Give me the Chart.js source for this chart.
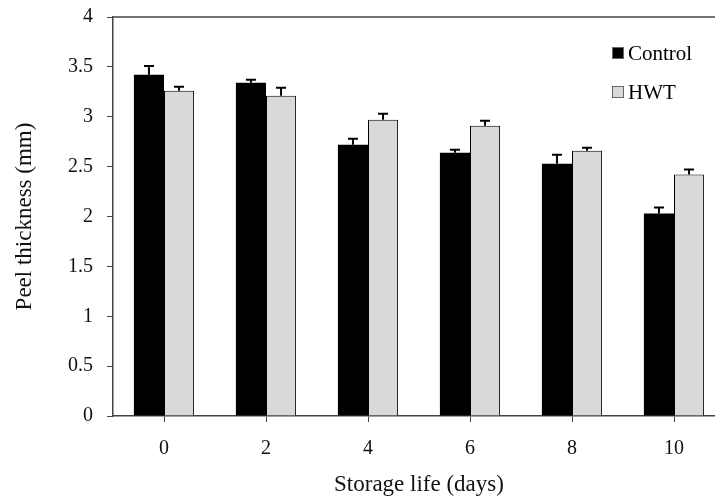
<!DOCTYPE html>
<html>
<head>
<meta charset="utf-8">
<script src="https://cdn.jsdelivr.net/npm/chart.js@4/dist/chart.umd.min.js"></script>
<style>
  html, body { margin: 0; padding: 0; background: #fff; }
  #wrap { width: 715px; height: 502px; overflow: hidden; }
</style>
</head>
<body>
<div id="wrap"><canvas id="myChart" width="725" height="502"></canvas></div>
<script>
// data
const days = ['0', '2', '4', '6', '8', '10'];
const control = [3.42, 3.34, 2.72, 2.64, 2.53, 2.03];
const controlErr = [0.09, 0.03, 0.06, 0.03, 0.09, 0.06];
const hwt = [3.26, 3.21, 2.97, 2.91, 2.66, 2.42];
const hwtErr = [0.04, 0.08, 0.06, 0.05, 0.03, 0.05];
const yTicks = ['0', '0.5', '1', '1.5', '2', '2.5', '3', '3.5', '4'];

const serif = 'Liberation Serif';

// upward-only error bars (T shape)
const errorBars = {
    id: 'errorBars',
    afterDatasetsDraw(chart) {
        const ctx = chart.ctx;
        const y = chart.scales.y;
        ctx.save();
        ctx.strokeStyle = '#000';
        ctx.lineWidth = 2;
        chart.data.datasets.forEach((ds, i) => {
            const meta = chart.getDatasetMeta(i);
            meta.data.forEach((bar, j) => {
                const top = y.getPixelForValue(ds.data[j] + ds.errors[j]);
                ctx.beginPath();
                ctx.moveTo(bar.x, bar.y);
                ctx.lineTo(bar.x, top);
                ctx.moveTo(bar.x - 5, top);
                ctx.lineTo(bar.x + 5, top);
                ctx.stroke();
            });
        });
        ctx.restore();
    }
};

// top frame line runs to the right edge
const frame = {
    id: 'frame',
    afterDraw(chart) {
        const ctx = chart.ctx;
        const a = chart.chartArea;
        ctx.save();
        ctx.strokeStyle = '#444';
        ctx.lineWidth = 1.5;
        ctx.beginPath();
        ctx.moveTo(a.left, a.top);
        ctx.lineTo(chart.width, a.top);
        ctx.stroke();
        ctx.restore();
    }
};

// legend inside plot, top right
const boxLegend = {
    id: 'boxLegend',
    afterDraw(chart) {
        const ctx = chart.ctx;
        ctx.save();
        ctx.font = '21px "' + serif + '"';
        ctx.textBaseline = 'middle';
        const rows = [53, 92];
        chart.data.datasets.forEach((ds, i) => {
            const cy = rows[i];
            ctx.fillStyle = ds.backgroundColor;
            ctx.fillRect(612, cy - 6, 12, 12);
            ctx.strokeStyle = '#666';
            ctx.lineWidth = 1;
            ctx.strokeRect(612.5, cy - 5.5, 11, 11);
            ctx.fillStyle = '#000';
            ctx.fillText(ds.label, 628, cy + 1);
        });
        ctx.restore();
    }
};

new Chart(document.getElementById('myChart').getContext('2d'), {
    type: 'bar',
    data: {
        labels: days,
        datasets: [
            {
                label: 'Control',
                data: control,
                errors: controlErr,
                backgroundColor: '#000',
                borderColor: '#000',
                borderWidth: 0,
                categoryPercentage: 0.59,
                barPercentage: 1
            },
            {
                label: 'HWT',
                data: hwt,
                errors: hwtErr,
                backgroundColor: '#d9d9d9',
                borderColor: '#000',
                borderWidth: 1,
                categoryPercentage: 0.59,
                barPercentage: 1
            }
        ]
    },
    options: {
        responsive: false,
        animation: false,
        layout: { padding: { left: 0, right: 0, top: 17, bottom: 0 } },
        plugins: {
            legend: { display: false },
            tooltip: { enabled: false }
        },
        scales: {
            x: {
                grid: {
                    offset: false,
                    drawOnChartArea: false,
                    drawTicks: true,
                    tickLength: 6,
                    color: '#444'
                },
                border: { display: true, color: '#444', width: 1.5 },
                ticks: {
                    color: '#111',
                    padding: 15,
                    font: { family: serif, size: 20 }
                },
                title: {
                    display: true,
                    text: 'Storage life (days)',
                    color: '#111',
                    font: { family: serif, size: 23 },
                    padding: { top: 8, bottom: 3 }
                },
                afterFit(scale) {
                    scale.height = 86;
                    scale.paddingLeft = 0;
                    scale.paddingRight = 0;
                }
            },
            y: {
                min: 0,
                max: 4,
                grid: {
                    drawOnChartArea: false,
                    drawTicks: true,
                    tickLength: 6,
                    color: '#444'
                },
                border: { display: true, color: '#444', width: 1.5 },
                ticks: {
                    stepSize: 0.5,
                    color: '#111',
                    padding: 14,
                    font: { family: serif, size: 20 },
                    callback: (v, i) => yTicks[i]
                },
                title: {
                    display: true,
                    text: 'Peel thickness (mm)',
                    color: '#111',
                    font: { family: serif, size: 23 },
                    padding: { top: 11, bottom: 4 }
                },
                afterFit(scale) {
                    scale.width = 113;
                    scale.paddingTop = 0;
                    scale.paddingBottom = 0;
                }
            }
        }
    },
    plugins: [errorBars, frame, boxLegend]
});
</script>
</body>
</html>
